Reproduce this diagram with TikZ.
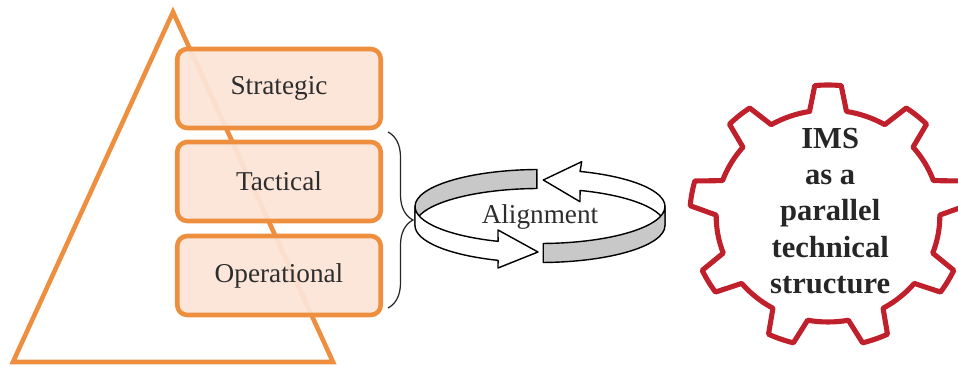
\documentclass[tikz,border=0pt]{standalone}
\usepackage{fontspec}
\setmainfont{Liberation Serif}
\usetikzlibrary{calc, shapes, arrows, decorations.pathreplacing}
\definecolor{pyrorange}{RGB}{238,143,63}
\definecolor{pyrfill}{RGB}{252,228,214}
\definecolor{gearred}{RGB}{192,32,44}
\definecolor{bandgray}{RGB}{200,200,200}
\definecolor{labelgray}{RGB}{45,45,45}

\begin{document}
\begin{tikzpicture}[x=0.02cm, y=-0.02cm,
	pyrline/.style={draw=pyrorange, line width=2.6pt, line join=miter},
	levelbox/.style={draw=pyrorange, line width=2.6pt, fill=pyrfill, fill opacity=0.93, text opacity=1,
		text=labelgray, rounded corners=0.2cm, minimum width=4.07cm, minimum height=1.58cm, inner sep=0pt},
	ringpart/.style={draw=black, line width=0.8pt, line join=round},
	gearline/.style={draw=gearred, line width=2.9pt, line join=round}]
	\newcommand{\mylevelfont}[1]{
		\fontsize{15.5}{18}\selectfont{#1}
	}\newcommand{\mygearfont}{
		\fontsize{17.4}{20.6}\selectfont\bfseries
	}%Picture size
	\useasboundingbox (0,0) rectangle (958,367);
	%The pyramid
	\coordinate (tip) at (173,12);
	\coordinate (bl) at (13,362);
	\coordinate (br) at (333,362);
	\draw[pyrline] (tip) -- (bl) -- (br) -- cycle;
	%The three levels
	\coordinate (centerStrat) at (279,88.5);
	\coordinate (centerTact) at (279,181.5);
	\coordinate (centerOper) at (279,275.5);
	\node [levelbox] (strat) at (centerStrat) {\mylevelfont{Strategic}};
	\node [levelbox] (tact) at (centerTact) {\mylevelfont{Tactical}};
	\node [levelbox] (oper) at (centerOper) {\mylevelfont{Operational}};
	%The brace
	\coordinate (braceTop) at (388,132);
	\coordinate (braceBot) at (388,308);
	\draw[decorate, decoration={brace, amplitude=0.5cm}, line width=0.7pt, black!85] (braceTop) -- (braceBot);
	%The ring, upper and lower rim
	\coordinate (rimTop) at (540,206.5);
	\coordinate (rimBot) at (540,225.5);
	%Back band, left half
	\draw[ringpart, fill=bandgray] ($(rimTop)+(180:125 and 37)$)
		arc[start angle=180, end angle=268.6, x radius=125, y radius=37]
		-- ($(rimBot)+(268.6:125 and 37)$)
		arc[start angle=268.6, end angle=180, x radius=125, y radius=37] -- cycle;
	%Back band, right half with the head
	\coordinate (headOneTop) at (581.7,161.7);
	\coordinate (headOneTip) at (543.3,180);
	\coordinate (headOneBot) at (580,201.7);
	\draw[ringpart, fill=white] ($(rimTop)+(360:125 and 37)$)
		arc[start angle=360, end angle=288.7, x radius=125, y radius=37]
		-- (headOneTop) -- (headOneTip) -- (headOneBot)
		-- ($(rimBot)+(288.7:125 and 37)$)
		arc[start angle=288.7, end angle=360, x radius=125, y radius=37] -- cycle;
	%Front band, left half with the head
	\coordinate (headTwoTop) at (498,230);
	\coordinate (headTwoTip) at (538,252);
	\coordinate (headTwoBot) at (498,268);
	\draw[ringpart, fill=white] ($(rimTop)+(180:125 and 37)$)
		arc[start angle=180, end angle=109.6, x radius=125, y radius=37]
		-- (headTwoTop) -- (headTwoTip) -- (headTwoBot)
		-- ($(rimBot)+(109.6:125 and 37)$)
		arc[start angle=109.6, end angle=180, x radius=125, y radius=37] -- cycle;
	%Front band, right half
	\draw[ringpart, fill=bandgray] ($(rimTop)+(88.5:125 and 37)$)
		arc[start angle=88.5, end angle=0, x radius=125, y radius=37]
		-- ($(rimBot)+(0:125 and 37)$)
		arc[start angle=0, end angle=88.5, x radius=125, y radius=37] -- cycle;
	\coordinate (centerAlign) at (540,217);
	\node [text=labelgray] (align) at (centerAlign) {\mylevelfont{Alignment}};
	%The gear
	\begin{scope}[shift={(828,216)}, xscale=1.055]
		\draw[gearline] ({-99.5}:106) \foreach \a in {-90,-50,...,230} {
			-- ({\a-5.5}:131) arc[start angle=\a-5.5, end angle=\a+5.5, radius=131]
			-- ({\a+9.5}:106) arc[start angle=\a+9.5, end angle=\a+30.5, radius=106]
		} -- cycle;
	\end{scope}
	\coordinate (centerGear) at (828,211);
	\node [align=center, font=\mygearfont, text=black!85] (ims) at (centerGear) {IMS\\as a\\parallel\\technical\\structure};
\end{tikzpicture}
\end{document}
